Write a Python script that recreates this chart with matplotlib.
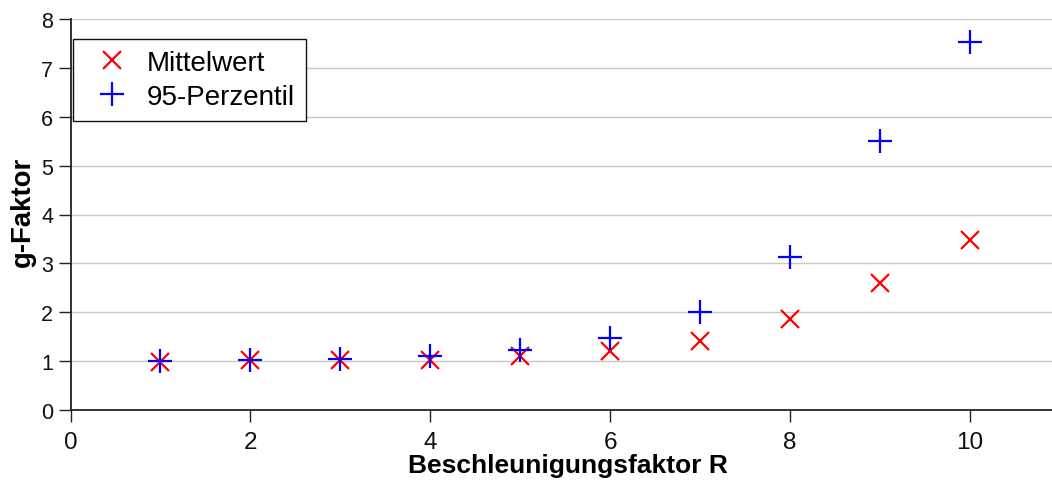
import matplotlib
matplotlib.use("Agg")
import matplotlib.pyplot as plt

plt.rcParams['font.family'] = ['Liberation Sans', 'DejaVu Sans']

# Beschleunigungsfaktor R und die zugehörigen g-Faktoren
r_values = [1, 2, 3, 4, 5, 6, 7, 8, 9, 10]
g_mean = [0.99, 1.02, 1.02, 1.02, 1.10, 1.20, 1.41, 1.86, 2.59, 3.47]
g_p95 = [1.00, 1.03, 1.05, 1.11, 1.23, 1.47, 2.01, 3.14, 5.51, 7.52]

x_ticks = [0, 2, 4, 6, 8, 10]
y_ticks = [0, 1, 2, 3, 4, 5, 6, 7, 8]

W, H = 1052, 489
x_left, x_unit = 70.5, 89.95          # pixel position of R=0 and pixels per unit
y_bottom, y_top = 411.0, 20.0
x_max = 11.0

fig = plt.figure(figsize=(W / 100, H / 100), dpi=100)
ax_w = x_max * x_unit
ax = fig.add_axes([x_left / W, 1 - y_bottom / H, ax_w / W, (y_bottom - y_top) / H])

ax.plot(r_values, g_mean, linestyle='none', marker='x', color='#ff0000',
        markersize=13.5, markeredgewidth=1.6, label='Mittelwert', zorder=3)
ax.plot(r_values, g_p95, linestyle='none', marker='+', color='#0000ff',
        markersize=17, markeredgewidth=1.6, label='95-Perzentil', zorder=4)

ax.set_xlim(0, x_max)
ax.set_ylim(0, 8)
ax.set_xticks(x_ticks)
ax.set_yticks(y_ticks)

ax.yaxis.grid(True, color='#c8c8c8', linewidth=1.0)
ax.set_axisbelow(True)

for side in ('top', 'right'):
    ax.spines[side].set_visible(False)
for side in ('left', 'bottom'):
    ax.spines[side].set_color('#222222')
    ax.spines[side].set_linewidth(1.3)

ax.tick_params(axis='both', direction='out', length=8.5, width=1.0,
               color='#222222', labelcolor='#111111')
ax.tick_params(axis='y', labelsize=15.5, pad=4)
ax.tick_params(axis='x', labelsize=17.5, pad=6.5)

ax.set_xlabel('Beschleunigungsfaktor R', fontsize=19, fontweight='bold')
ax.set_ylabel('g-Faktor', fontsize=19.8, fontweight='bold')
ax_h = y_bottom - y_top
ax.xaxis.set_label_coords((567.5 - x_left) / ax_w, (y_bottom - 453.5) / ax_h)
ax.yaxis.set_label_coords((35.5 - x_left) / ax_w, (y_bottom - 212) / ax_h)

leg = ax.legend(loc='upper left', bbox_to_anchor=(73 / W, 1 - 40 / H),
                bbox_transform=fig.transFigure, borderaxespad=0,
                fontsize=20, frameon=True, fancybox=False, framealpha=1,
                edgecolor='#111111', handlelength=2.0, handletextpad=0.25,
                labelspacing=0.27, borderpad=0.4)
leg.get_frame().set_linewidth(1.0)

fig.savefig('out.png', dpi=100)
